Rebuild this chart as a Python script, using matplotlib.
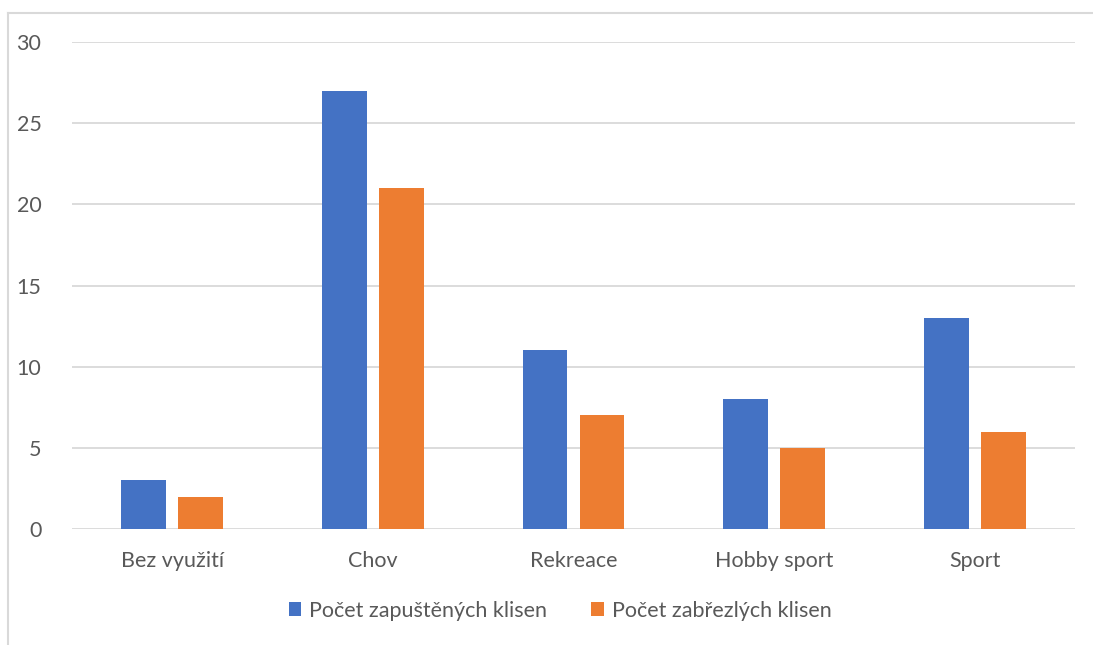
import matplotlib.pyplot as plt
import numpy as np
from matplotlib.lines import Line2D

# data
categories = ['Bez využití', 'Chov', 'Rekreace', 'Hobby sport', 'Sport']
zapustenych = [3, 27, 11, 8, 13]
zabrezlych = [2, 21, 7, 5, 6]
series_names = ['Počet zapuštěných klisen', 'Počet zabřezlých klisen']

plt.rcParams['font.family'] = ['Lato', 'DejaVu Sans']
text_color = '#595959'

fig = plt.figure(figsize=(10.93, 6.45), dpi=100)
ax = fig.add_axes([0.0659, 0.1798, 0.9176, 0.7551])

x = np.arange(len(categories))
w = 0.224
ax.bar(x - 0.142, zapustenych, w, color='#4472C4', label=series_names[0], zorder=3)
ax.bar(x + 0.142, zabrezlych, w, color='#ED7D31', label=series_names[1], zorder=3)

ax.set_xlim(-0.5, len(categories) - 0.5)
ax.set_ylim(0, 30)
ax.set_yticks(range(0, 31, 5))
ax.set_xticks(x)
ax.set_xticklabels(categories)
ax.grid(axis='y', color='#d9d9d9', linewidth=1.3, zorder=0)
ax.tick_params(length=0, labelsize=15.5, colors=text_color)
ax.tick_params(axis='y', pad=22)
ax.tick_params(axis='x', pad=16)
for s in ax.spines.values():
    s.set_visible(False)

ax.legend(loc='center', bbox_to_anchor=(0.4865, -0.168), ncol=2, frameon=False,
          fontsize=15.5, labelcolor=text_color, handlelength=0.6, handleheight=0.6,
          handletextpad=0.35, columnspacing=2.05)

# outer chart border (only left and top visible)
fig.add_artist(Line2D([8 / 1093, 8 / 1093], [0, 1 - 13 / 645], color='#d9d9d9', lw=1.5))
fig.add_artist(Line2D([8 / 1093, 1], [1 - 13 / 645, 1 - 13 / 645], color='#d9d9d9', lw=1.5))

fig.savefig('out.png', dpi=100)
